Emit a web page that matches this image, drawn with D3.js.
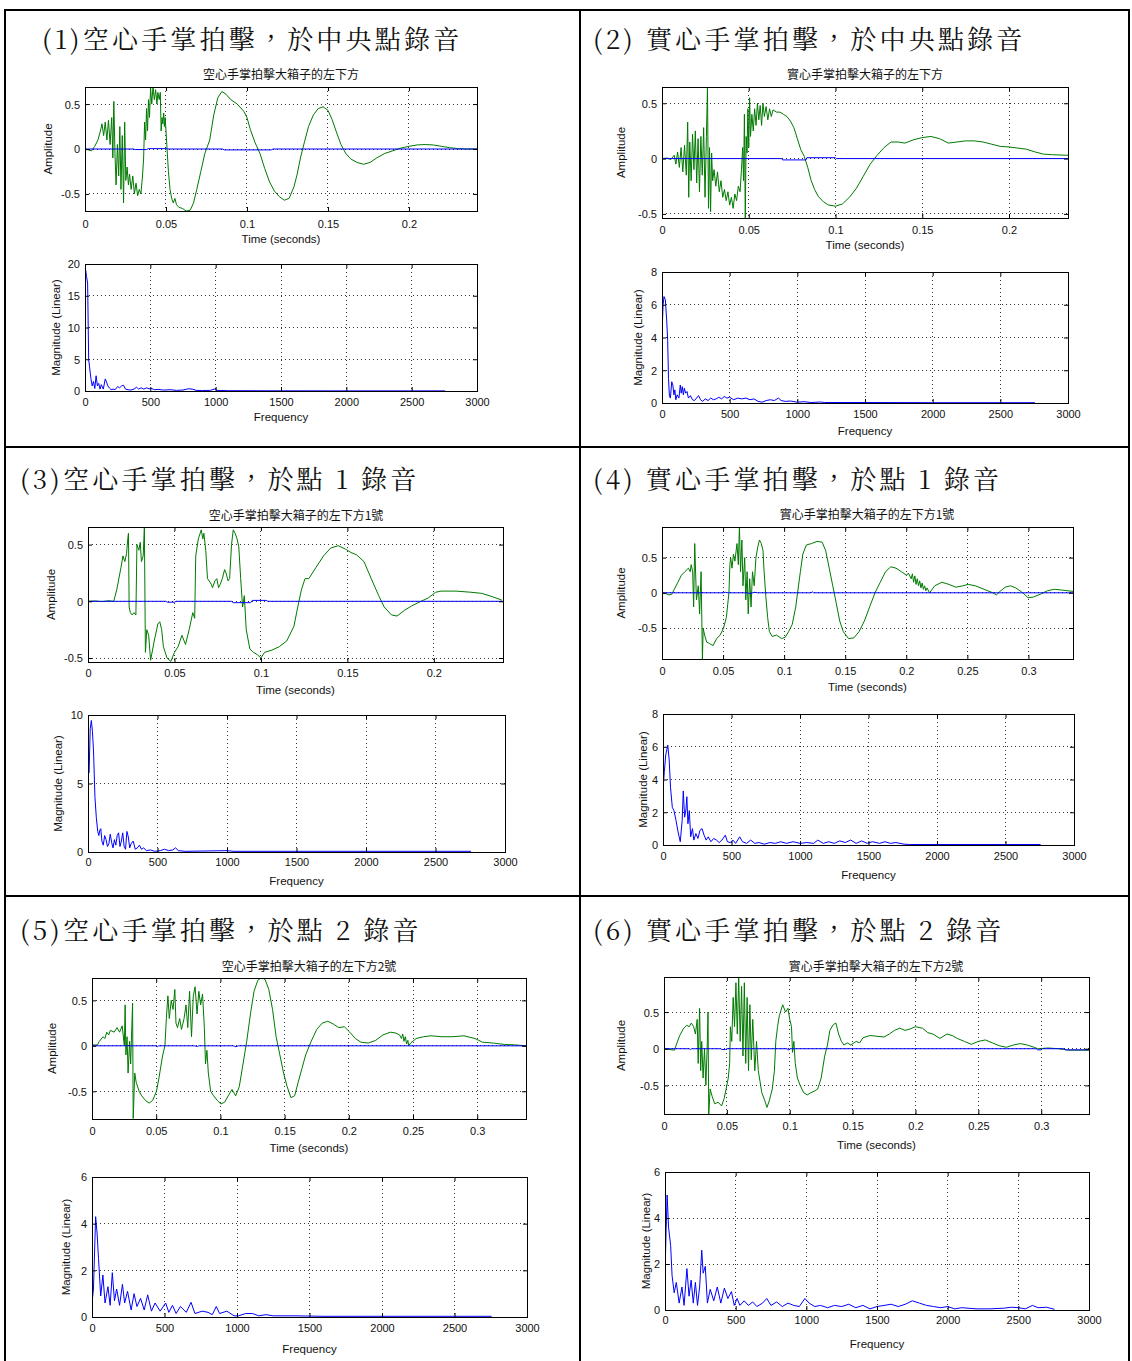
<!DOCTYPE html>
<html>
<head>
<meta charset="utf-8">
<script src="https://cdn.jsdelivr.net/npm/d3@7"></script>
<style>
  html, body { margin: 0; padding: 0; background: #fff; }
  svg { display: block; }
</style>
</head>
<body>
<svg id="fig" width="1132" height="1361"></svg>
<script>
// ---- text ----
const headings = [
  "(1)空心手掌拍擊，於中央點錄音",
  "(2) 實心手掌拍擊，於中央點錄音",
  "(3)空心手掌拍擊，於點 1 錄音",
  "(4) 實心手掌拍擊，於點 1 錄音",
  "(5)空心手掌拍擊，於點 2 錄音",
  "(6) 實心手掌拍擊，於點 2 錄音"
];
const plotTitles = [
  "空心手掌拍擊大箱子的左下方",
  "實心手掌拍擊大箱子的左下方",
  "空心手掌拍擊大箱子的左下方1號",
  "實心手掌拍擊大箱子的左下方1號",
  "空心手掌拍擊大箱子的左下方2號",
  "實心手掌拍擊大箱子的左下方2號"
];

// ---- ticks and axis ranges ----
const timeTicksShort = [0, 0.05, 0.1, 0.15, 0.2];
const timeTicksLong = [0, 0.05, 0.1, 0.15, 0.2, 0.25, 0.3];
const ampTicks = [-0.5, 0, 0.5];
const freqTicks = [0, 500, 1000, 1500, 2000, 2500, 3000];
const magTicks = [[0, 5, 10, 15, 20], [0, 2, 4, 6, 8], [0, 5, 10], [0, 2, 4, 6, 8], [0, 2, 4, 6], [0, 2, 4, 6]];
const timeMax = [0.242, 0.234, 0.24, 0.3365, 0.338, 0.338];
const ampRange = [[-0.69, 0.69], [-0.537, 0.647], [-0.535, 0.655], [-0.94, 0.935], [-0.805, 0.746], [-0.89, 0.978]];
const freqMax = 3000;

// ---- recorded waveforms [time s, amplitude] ----
const wave1 = [[0,0],[0.002,-0.01],[0.004,-0.02],[0.006,0.03],[0.008,0.1],[0.0095,0.2],[0.0105,0.28],[0.0115,0.15],[0.0125,0.3],[0.0135,0.1],[0.0145,0.32],[0.0155,0.05],[0.0165,0.35],[0.0172,-0.1],[0.0178,0.53],[0.0185,-0.05],[0.0192,-0.4],[0.02,0.05],[0.0208,-0.3],[0.0215,0.25],[0.0222,-0.45],[0.023,0.15],[0.0238,-0.6],[0.0245,0.3],[0.0252,-0.35],[0.026,-0.2],[0.0268,-0.4],[0.0275,-0.28],[0.0285,-0.45],[0.0295,-0.3],[0.0305,-0.5],[0.0315,-0.38],[0.0325,-0.52],[0.0335,-0.45],[0.0345,-0.5],[0.0355,-0.3],[0.0362,-0.1],[0.0368,0.3],[0.0374,0.1],[0.038,0.45],[0.0386,0.2],[0.0392,0.55],[0.0398,0.35],[0.0405,0.68],[0.0412,0.5],[0.042,0.7],[0.0428,0.55],[0.0436,0.66],[0.0444,0.5],[0.045,0.63],[0.0458,0.55],[0.0465,0.63],[0.047,0.2],[0.0476,0.35],[0.048,0.28],[0.0486,0.4],[0.049,0.25],[0.0495,0.35],[0.0505,0.05],[0.0515,-0.25],[0.0525,-0.45],[0.0535,-0.55],[0.0545,-0.6],[0.0555,-0.55],[0.0565,-0.62],[0.058,-0.65],[0.06,-0.66],[0.0625,-0.69],[0.065,-0.68],[0.067,-0.6],[0.069,-0.45],[0.0715,-0.25],[0.074,-0.05],[0.077,0.1],[0.0795,0.38],[0.082,0.57],[0.0845,0.64],[0.087,0.61],[0.09,0.55],[0.094,0.5],[0.098,0.42],[0.1,0.35],[0.102,0.22],[0.105,0.07],[0.108,-0.05],[0.111,-0.22],[0.114,-0.37],[0.117,-0.47],[0.12,-0.53],[0.123,-0.57],[0.126,-0.55],[0.129,-0.42],[0.131,-0.28],[0.133,-0.1],[0.1355,0.08],[0.138,0.25],[0.141,0.38],[0.144,0.45],[0.147,0.47],[0.15,0.43],[0.1525,0.33],[0.155,0.2],[0.158,0.05],[0.161,-0.05],[0.164,-0.11],[0.168,-0.15],[0.172,-0.17],[0.176,-0.15],[0.18,-0.1],[0.185,-0.05],[0.19,-0.02],[0.195,0.01],[0.2,0.03],[0.205,0.045],[0.21,0.05],[0.215,0.045],[0.22,0.03],[0.225,0.015],[0.23,0.005],[0.235,0],[0.242,0]];
const wave2 = [[0,0],[0.003,0.005],[0.005,-0.01],[0.007,0.03],[0.008,-0.05],[0.009,0.06],[0.01,-0.08],[0.011,0.1],[0.012,-0.12],[0.013,0.12],[0.014,-0.15],[0.0148,0.33],[0.0154,-0.35],[0.016,0.15],[0.0168,-0.2],[0.0176,0.22],[0.0184,-0.1],[0.0192,0.25],[0.02,-0.22],[0.0208,0.18],[0.0216,-0.3],[0.0224,0.2],[0.0232,-0.15],[0.024,0.28],[0.0248,-0.35],[0.0256,0.2],[0.0262,0.64],[0.0268,-0.45],[0.0274,0.1],[0.028,-0.48],[0.0286,0.05],[0.0292,-0.2],[0.03,-0.1],[0.031,-0.25],[0.032,-0.12],[0.033,-0.3],[0.034,-0.2],[0.035,-0.35],[0.036,-0.28],[0.037,-0.38],[0.038,-0.3],[0.039,-0.42],[0.04,-0.35],[0.041,-0.45],[0.042,-0.32],[0.043,-0.38],[0.044,-0.25],[0.045,-0.3],[0.0458,-0.1],[0.0465,0.1],[0.047,-0.2],[0.0475,0.4],[0.048,-0.55],[0.0485,0.2],[0.049,0.05],[0.0495,0.45],[0.05,0.1],[0.0505,0.55],[0.051,0.2],[0.0518,0.4],[0.0526,0.25],[0.0534,0.45],[0.0542,0.3],[0.055,0.5],[0.0558,0.35],[0.0566,0.48],[0.0574,0.3],[0.0582,0.5],[0.059,0.38],[0.06,0.47],[0.061,0.35],[0.062,0.45],[0.063,0.38],[0.064,0.44],[0.066,0.42],[0.068,0.42],[0.07,0.4],[0.072,0.38],[0.074,0.34],[0.076,0.28],[0.078,0.18],[0.08,0.08],[0.082,0.02],[0.084,-0.08],[0.086,-0.2],[0.088,-0.28],[0.09,-0.34],[0.093,-0.39],[0.096,-0.42],[0.1,-0.43],[0.104,-0.41],[0.108,-0.35],[0.112,-0.27],[0.116,-0.16],[0.12,-0.05],[0.124,0.03],[0.128,0.1],[0.132,0.15],[0.136,0.15],[0.14,0.14],[0.145,0.17],[0.15,0.19],[0.155,0.2],[0.16,0.18],[0.165,0.14],[0.17,0.15],[0.175,0.16],[0.18,0.16],[0.185,0.15],[0.19,0.13],[0.195,0.11],[0.2,0.105],[0.205,0.095],[0.21,0.085],[0.215,0.06],[0.22,0.04],[0.225,0.035],[0.234,0.03]];
const wave3 = [[0,0],[0.004,0.003],[0.008,-0.003],[0.012,0.005],[0.0149,0],[0.0166,0.1],[0.0191,0.3],[0.0202,0.4],[0.0213,0.35],[0.0223,0.42],[0.023,0.55],[0.0234,0.6],[0.0238,-0.05],[0.0245,-0.1],[0.0255,-0.12],[0.0266,-0.1],[0.0277,-0.12],[0.0283,0.5],[0.0294,0.45],[0.0302,0.52],[0.0309,0.35],[0.0319,0.4],[0.0326,0.65],[0.0332,-0.45],[0.034,-0.25],[0.0351,-0.3],[0.0362,-0.52],[0.0383,-0.35],[0.0404,-0.2],[0.0415,-0.18],[0.0426,-0.25],[0.0436,-0.4],[0.0457,-0.5],[0.0479,-0.53],[0.05,-0.45],[0.0521,-0.4],[0.0543,-0.3],[0.0564,-0.38],[0.0585,-0.25],[0.0606,-0.1],[0.0617,-0.15],[0.0623,0.4],[0.0638,0.55],[0.0655,0.63],[0.0664,0.55],[0.067,0.6],[0.0681,0.45],[0.0691,0.2],[0.0705,0.17],[0.0713,0.15],[0.072,0.12],[0.0734,0.18],[0.0745,0.2],[0.0755,0.12],[0.0765,0.15],[0.0777,0.2],[0.079,0.28],[0.0798,0.25],[0.081,0.18],[0.0819,0.2],[0.083,0.5],[0.084,0.63],[0.0851,0.6],[0.0862,0.55],[0.0872,0.48],[0.0883,0.2],[0.0894,-0.05],[0.0904,0.05],[0.0915,-0.25],[0.0936,-0.42],[0.0957,-0.45],[0.0979,-0.47],[0.1,-0.5],[0.1021,-0.45],[0.1064,-0.43],[0.1106,-0.4],[0.1149,-0.35],[0.1191,-0.22],[0.1213,-0.05],[0.1234,0.1],[0.1255,0.2],[0.1277,0.2],[0.1319,0.3],[0.1362,0.4],[0.1404,0.47],[0.1447,0.49],[0.1489,0.46],[0.1521,0.43],[0.1553,0.41],[0.1596,0.35],[0.1638,0.2],[0.1681,0.05],[0.1713,-0.05],[0.1755,-0.12],[0.1787,-0.13],[0.183,-0.08],[0.1872,-0.04],[0.1926,0],[0.1968,0.03],[0.2011,0.08],[0.2043,0.09],[0.2128,0.09],[0.2213,0.08],[0.2277,0.07],[0.234,0.04],[0.2394,0.01]];
const wave4 = [[0,0],[0.003,-0.01],[0.0058,-0.03],[0.008,-0.02],[0.0101,0.05],[0.013,0.15],[0.0159,0.25],[0.0187,0.3],[0.0216,0.35],[0.0231,0.3],[0.0239,0.4],[0.0251,0.3],[0.0259,-0.2],[0.0268,0.7],[0.0282,-0.1],[0.0297,0.1],[0.0308,-0.3],[0.032,0.3],[0.0331,-0.94],[0.0337,-0.5],[0.0349,-0.6],[0.0366,-0.7],[0.0389,-0.72],[0.0418,-0.75],[0.0447,-0.65],[0.0476,-0.6],[0.0504,-0.5],[0.0527,-0.35],[0.0548,0],[0.0556,0.4],[0.0562,0.5],[0.0573,0.35],[0.0585,0.55],[0.0597,0.45],[0.0614,0.7],[0.0625,0.4],[0.0634,0.95],[0.0643,0.3],[0.0654,0.75],[0.0663,0.1],[0.0677,0.5],[0.0686,-0.1],[0.0697,0.3],[0.0706,-0.3],[0.0718,0.2],[0.0729,-0.2],[0.0741,0.3],[0.0755,0.1],[0.0769,0.5],[0.0784,0.65],[0.0798,0.75],[0.0813,0.7],[0.0827,0.6],[0.0836,0.3],[0.085,-0.05],[0.0865,-0.35],[0.0879,-0.55],[0.0902,-0.62],[0.0937,-0.6],[0.098,-0.65],[0.1009,-0.63],[0.1037,-0.55],[0.1066,-0.45],[0.1095,-0.2],[0.111,0],[0.1133,0.3],[0.1153,0.55],[0.1182,0.68],[0.1225,0.7],[0.1268,0.73],[0.1311,0.72],[0.134,0.6],[0.1369,0.35],[0.1398,0.1],[0.1427,-0.15],[0.1455,-0.4],[0.1484,-0.55],[0.1527,-0.65],[0.1571,-0.64],[0.1614,-0.55],[0.1657,-0.4],[0.17,-0.2],[0.1744,0],[0.1787,0.15],[0.183,0.3],[0.1873,0.37],[0.1916,0.35],[0.196,0.3],[0.2003,0.25],[0.2017,0.28],[0.204,0.2],[0.205,0.27],[0.206,0.15],[0.207,0.24],[0.208,0.12],[0.209,0.2],[0.21,0.1],[0.211,0.17],[0.212,0.07],[0.213,0.14],[0.214,0.05],[0.215,0.1],[0.216,0.03],[0.217,0.07],[0.219,0],[0.2233,0.1],[0.2291,0.15],[0.2349,0.12],[0.2406,0.08],[0.2464,0.1],[0.2507,0.12],[0.2565,0.1],[0.2637,0.05],[0.2709,0],[0.2738,-0.03],[0.2767,0.02],[0.281,0.08],[0.2853,0.1],[0.2896,0.07],[0.2954,0],[0.2997,-0.07],[0.304,-0.06],[0.3098,-0.02],[0.3156,0.03],[0.3213,0.05],[0.3271,0.04],[0.3365,0.02]];
const wave5 = [[0,0.01],[0.0043,0.01],[0.0057,0.05],[0.0086,0.1],[0.01,0.08],[0.0115,0.15],[0.013,0.12],[0.0143,0.17],[0.0172,0.15],[0.0195,0.2],[0.0215,0.15],[0.0235,0.22],[0.0252,0],[0.0258,0.45],[0.0264,-0.1],[0.0273,0.1],[0.0281,-0.3],[0.0293,0.05],[0.0301,-0.2],[0.0316,0.47],[0.0321,-0.8],[0.0333,-0.3],[0.0344,-0.4],[0.0367,-0.5],[0.0387,-0.55],[0.0416,-0.6],[0.0445,-0.63],[0.0473,-0.6],[0.0502,-0.5],[0.0522,-0.35],[0.0539,-0.2],[0.0551,-0.1],[0.0568,0],[0.0579,0.3],[0.0591,0.55],[0.0602,0.3],[0.0617,0.5],[0.0631,0.4],[0.0645,0.62],[0.0654,0.25],[0.0666,0.2],[0.0683,0.3],[0.0697,0.18],[0.0717,0.3],[0.0732,0.45],[0.0746,0.2],[0.076,0.6],[0.0775,0.1],[0.0789,0.55],[0.0803,0.65],[0.0818,0.35],[0.0832,0.6],[0.0846,0.45],[0.0861,0.57],[0.0875,0.2],[0.0884,-0.2],[0.0895,-0.05],[0.0906,-0.3],[0.0924,-0.5],[0.0947,-0.55],[0.0975,-0.6],[0.1004,-0.64],[0.1033,-0.62],[0.1061,-0.55],[0.109,-0.48],[0.1119,-0.55],[0.1147,-0.45],[0.1176,-0.2],[0.1205,0.05],[0.1234,0.35],[0.1262,0.6],[0.1291,0.72],[0.132,0.75],[0.1348,0.73],[0.1377,0.62],[0.1406,0.4],[0.1434,0.1],[0.1463,-0.1],[0.1492,-0.3],[0.152,-0.45],[0.1549,-0.57],[0.1578,-0.55],[0.1606,-0.4],[0.1635,-0.25],[0.1664,-0.1],[0.1707,0.05],[0.175,0.18],[0.1793,0.25],[0.1836,0.27],[0.1879,0.24],[0.1922,0.2],[0.1965,0.21],[0.2008,0.15],[0.2051,0.08],[0.2094,0.04],[0.2151,0.03],[0.2209,0.06],[0.2266,0.12],[0.2324,0.15],[0.2367,0.14],[0.2395,0.12],[0.241,0.08],[0.242,0.13],[0.243,0.05],[0.244,0.1],[0.245,0.02],[0.246,0.06],[0.2467,0],[0.2481,0.03],[0.2524,0.08],[0.2582,0.1],[0.2639,0.11],[0.2725,0.1],[0.2811,0.1],[0.2897,0.11],[0.2983,0.08],[0.3041,0.04],[0.3127,0.03],[0.3213,0.015],[0.3299,0.01],[0.338,0]];
const wave6 = [[0,0],[0.004,-0.01],[0.0083,-0.02],[0.0097,0.05],[0.0125,0.18],[0.0153,0.27],[0.0181,0.32],[0.02,0.3],[0.0217,0.35],[0.0236,0.3],[0.025,0.2],[0.0264,0.4],[0.0272,-0.2],[0.0283,0.55],[0.0292,-0.3],[0.03,0.1],[0.0311,-0.4],[0.0322,0],[0.0333,-0.5],[0.0344,0.05],[0.035,0.5],[0.0356,-0.89],[0.0367,-0.55],[0.0383,-0.65],[0.0403,-0.75],[0.0431,-0.73],[0.0458,-0.78],[0.0478,-0.68],[0.0494,-0.55],[0.0511,-0.4],[0.0522,-0.2],[0.0528,0.3],[0.0539,0.1],[0.055,0.7],[0.0561,0.3],[0.0572,0.9],[0.0583,0.2],[0.0594,0.98],[0.0606,0.1],[0.0617,0.85],[0.0628,-0.1],[0.0639,0.9],[0.065,-0.2],[0.0661,0.7],[0.0672,-0.3],[0.0683,0.6],[0.0694,-0.15],[0.0706,0.4],[0.0722,-0.3],[0.0736,0.1],[0.075,-0.3],[0.0764,-0.45],[0.0778,-0.6],[0.08,-0.7],[0.0819,-0.8],[0.0839,-0.7],[0.0861,-0.55],[0.0878,-0.3],[0.0889,0.1],[0.0903,0.3],[0.0917,0.45],[0.0944,0.6],[0.0967,0.5],[0.0986,0.55],[0.1,0.4],[0.1014,0.3],[0.1022,-0.05],[0.1033,0.1],[0.1044,-0.2],[0.1061,-0.4],[0.1083,-0.5],[0.1111,-0.6],[0.1139,-0.63],[0.1167,-0.6],[0.1194,-0.58],[0.1222,-0.55],[0.125,-0.4],[0.1278,-0.1],[0.13,0.05],[0.1319,0.25],[0.1347,0.33],[0.1367,0.35],[0.1389,0.2],[0.1411,0.1],[0.1431,0.05],[0.1458,0.08],[0.1486,0.05],[0.1528,0.1],[0.1556,0.08],[0.1583,0.15],[0.1639,0.18],[0.1694,0.17],[0.175,0.16],[0.1792,0.2],[0.1833,0.25],[0.1875,0.28],[0.1917,0.25],[0.1958,0.27],[0.2,0.3],[0.2056,0.28],[0.2097,0.22],[0.2139,0.2],[0.2194,0.14],[0.225,0.2],[0.2292,0.18],[0.2333,0.14],[0.2389,0.1],[0.2444,0.06],[0.25,0.1],[0.2556,0.12],[0.2611,0.08],[0.2667,0.04],[0.2722,0.02],[0.2778,0.05],[0.2833,0.07],[0.2889,0.05],[0.2944,0.02],[0.2972,0],[0.3056,0.01],[0.3139,0],[0.3222,-0.02],[0.338,-0.02]];

// ---- second (blue) channel [time s, amplitude] ----
const ref1 = [[0,0],[0.03,0],[0.031,-0.006],[0.038,-0.006],[0.039,0.004],[0.05,0.004],[0.051,0],[0.085,0],[0.086,-0.01],[0.115,-0.01],[0.116,0],[0.242,0]];
const ref2 = [[0,0],[0.069,0],[0.0695,-0.012],[0.083,-0.012],[0.0835,0.008],[0.1,0.008],[0.1005,0],[0.234,0]];
const ref3 = [[0,0],[0.045,0],[0.046,-0.008],[0.05,-0.008],[0.051,0],[0.083,0],[0.084,-0.012],[0.094,-0.012],[0.095,0.008],[0.103,0.008],[0.104,0],[0.24,0]];
const ref4 = [[0,0],[0.05,0],[0.052,0.008],[0.054,0],[0.07,0],[0.072,-0.01],[0.076,0.008],[0.078,0],[0.122,0],[0.123,0.015],[0.124,0],[0.3365,0]];
const ref5 = [[0,0],[0.05,0],[0.051,-0.01],[0.052,0],[0.08,0],[0.082,-0.008],[0.083,0],[0.11,0],[0.112,-0.01],[0.114,0],[0.338,0]];
const ref6 = [[0,0],[0.02,0],[0.021,-0.01],[0.022,0],[0.045,0],[0.046,-0.01],[0.049,-0.01],[0.05,0],[0.098,0],[0.099,-0.02],[0.1,0],[0.296,0],[0.297,-0.015],[0.3,-0.015],[0.301,0],[0.318,0],[0.319,-0.015],[0.338,-0.015]];

// ---- magnitude spectra [frequency Hz, magnitude] ----
const spec1 = [[0,15],[5,19],[12,18],[20,17],[28,5],[35,3.8],[45,2],[55,0.8],[65,1.5],[75,0.4],[85,2.4],[95,0.8],[105,1.2],[115,0.3],[125,1],[140,0.3],[155,1.9],[165,1.4],[175,0.8],[190,0.4],[200,0.2],[215,0.3],[230,0.2],[250,0.7],[265,0.5],[280,0.8],[295,0.9],[310,0.3],[330,0.2],[350,0.15],[375,0.3],[395,0.6],[410,0.3],[430,0.5],[450,0.3],[470,0.5],[490,0.35],[510,0.4],[530,0.2],[560,0.25],[600,0.15],[650,0.2],[700,0.1],[750,0.15],[790,0.35],[820,0.3],[850,0.1],[900,0.08],[960,0.1],[990,0.3],[1010,0.1],[1100,0.05],[1500,0.03],[2000,0.02],[2756,0.02]];
const spec2 = [[0,4.2],[8,6],[15,6.5],[25,6.3],[35,5],[42,3.8],[48,1.5],[55,0.4],[62,0.3],[72,1.3],[80,1.1],[88,0.5],[95,0.8],[102,0.2],[112,0.5],[125,0.3],[135,1.1],[142,0.6],[150,1.0],[158,0.5],[165,0.9],[175,0.6],[185,0.7],[195,0.3],[210,0.45],[225,0.2],[240,0.15],[255,0.3],[270,0.45],[285,0.2],[300,0.1],[320,0.25],[340,0.15],[360,0.3],[380,0.2],[400,0.25],[420,0.35],[440,0.25],[460,0.4],[480,0.3],[500,0.35],[530,0.2],[560,0.3],[590,0.25],[620,0.3],[650,0.2],[680,0.25],[710,0.1],[740,0.05],[770,0.15],[800,0.2],[830,0.15],[860,0.3],[880,0.15],[910,0.1],[950,0.12],[1000,0.05],[1050,0.08],[1100,0.03],[1170,0.06],[1200,0.03],[1500,0.03],[2000,0.02],[2756,0.02]];
const spec3 = [[0,6],[8,5.8],[16,9],[24,9.6],[32,8.8],[40,7.3],[50,4],[60,2.5],[70,1.5],[78,1.2],[85,1.6],[92,1.7],[100,0.8],[110,0.5],[120,1.2],[130,0.9],[140,0.4],[150,0.6],[160,1.3],[170,0.7],[180,0.3],[190,0.9],[200,0.5],[210,1.2],[220,1.4],[230,0.4],[240,0.8],[250,1.4],[260,0.4],[270,0.2],[280,1.5],[290,1.1],[300,0.3],[310,0.6],[325,0.8],[340,0.2],[355,0.3],[370,0.5],[385,0.2],[400,0.3],[420,0.1],[450,0.15],[480,0.05],[520,0.1],[550,0.2],[580,0.1],[610,0.15],[630,0.3],[650,0.1],[700,0.05],[1000,0.1],[1050,0.05],[2756,0.05]];
const spec4 = [[0,3.4],[10,4.5],[20,5.5],[35,6.1],[45,5.2],[55,3.5],[68,2.3],[80,2.1],[95,1.5],[110,0.8],[126,0.2],[140,1.5],[148,3.3],[158,1.7],[168,2.2],[174,2.95],[182,1.3],[192,2.1],[202,0.5],[215,1.0],[225,0.3],[240,0.7],[255,0.4],[270,0.9],[285,1.0],[300,0.6],[315,0.3],[330,0.5],[350,0.2],[370,0.4],[390,0.3],[410,0.15],[430,0.3],[455,0.6],[470,0.2],[490,0.15],[510,0.3],[530,0.1],[560,0.5],[580,0.2],[610,0.1],[640,0.3],[670,0.1],[700,0.15],[740,0.05],[780,0.15],[820,0.1],[860,0.2],[900,0.1],[950,0.2],[1000,0.1],[1050,0.15],[1100,0.1],[1130,0.3],[1170,0.1],[1210,0.2],[1250,0.1],[1290,0.25],[1330,0.15],[1370,0.3],[1410,0.1],[1450,0.25],[1490,0.1],[1530,0.2],[1580,0.1],[1620,0.2],[1660,0.1],[1700,0.15],[1760,0.05],[1800,0.03],[2756,0.03]];
const spec5 = [[0,0.6],[10,1.2],[25,4.3],[35,3.6],[45,2.5],[60,0.9],[75,1.8],[90,0.6],[110,1.3],[125,0.5],[140,1.9],[155,0.7],[170,1.2],[190,0.5],[210,1.4],[225,0.6],[245,1.1],[270,0.3],[290,1.0],[310,0.45],[335,0.8],[360,0.3],[384,0.95],[410,0.25],[435,0.6],[470,0.25],[508,0.6],[530,0.2],[555,0.5],[580,0.15],[610,0.45],[650,0.2],[683,0.63],[710,0.15],[760,0.25],[800,0.2],[830,0.1],[857,0.45],[880,0.15],[930,0.25],[980,0.05],[1010,0.05],[1060,0.15],[1107,0.15],[1150,0.05],[1200,0.1],[1250,0.05],[1400,0.05],[1600,0.03],[2756,0.03]];
const spec6 = [[0,1.5],[8,3.5],[15,5.0],[25,3.6],[40,2.8],[50,1.5],[65,0.75],[80,1.2],[100,0.3],[120,1.0],[135,0.2],[155,1.8],[170,0.6],[185,1.3],[200,0.3],[215,1.2],[230,0.2],[245,1.0],[260,2.6],[270,1.6],[285,1.9],[300,0.3],[320,0.9],[345,0.4],[370,1.0],[395,0.3],[420,0.95],[445,0.5],[470,0.8],[490,0.2],[510,0.5],[530,0.2],[560,0.4],[590,0.2],[620,0.35],[650,0.15],[690,0.3],[720,0.5],[750,0.2],[790,0.35],[830,0.15],[870,0.3],[910,0.2],[950,0.15],[990,0.5],[1020,0.3],[1060,0.15],[1100,0.2],[1150,0.1],[1200,0.2],[1250,0.15],[1300,0.25],[1350,0.1],[1400,0.2],[1450,0.05],[1500,0.15],[1550,0.2],[1600,0.25],[1650,0.15],[1700,0.25],[1750,0.4],[1800,0.3],[1850,0.2],[1900,0.15],[1950,0.1],[2000,0.15],[2050,0.05],[2100,0.1],[2200,0.05],[2300,0.05],[2400,0.08],[2450,0.12],[2500,0.1],[2550,0.05],[2600,0.2],[2640,0.1],[2700,0.12],[2756,0.03]];

const waves = [wave1, wave2, wave3, wave4, wave5, wave6];
const refs = [ref1, ref2, ref3, ref4, ref5, ref6];
const spectra = [spec1, spec2, spec3, spec4, spec5, spec6];
const timeTickSets = [timeTicksShort, timeTicksShort, timeTicksShort, timeTicksLong, timeTicksLong, timeTicksLong];

// ---- page geometry ----
const panels = [
  {head: [42, 49], title: [281, 79],
   time: {x0: 85, x1: 477, y0: 87, y1: 211, tick: 228, lab: 243, ylab: 48},
   freq: {x0: 85, x1: 477, y0: 264, y1: 391, tick: 406, lab: 421, ylab: 56}},
  {head: [593, 49], title: [865, 79],
   time: {x0: 662, x1: 1068, y0: 87, y1: 218, tick: 234, lab: 249, ylab: 621},
   freq: {x0: 662, x1: 1068, y0: 272, y1: 403, tick: 418, lab: 435, ylab: 638}},
  {head: [20, 489], title: [296, 520],
   time: {x0: 88, x1: 503, y0: 527, y1: 662, tick: 677, lab: 694, ylab: 51},
   freq: {x0: 88, x1: 505, y0: 715, y1: 852, tick: 866, lab: 885, ylab: 58}},
  {head: [593, 489], title: [867, 519],
   time: {x0: 662, x1: 1073, y0: 527, y1: 659, tick: 675, lab: 691, ylab: 621},
   freq: {x0: 663, x1: 1074, y0: 714, y1: 845, tick: 860, lab: 879, ylab: 643}},
  {head: [20, 940], title: [309, 971],
   time: {x0: 92, x1: 526, y0: 978, y1: 1119, tick: 1135, lab: 1152, ylab: 52},
   freq: {x0: 92, x1: 527, y0: 1177, y1: 1317, tick: 1332, lab: 1353, ylab: 66}},
  {head: [593, 940], title: [876, 971],
   time: {x0: 664, x1: 1089, y0: 977, y1: 1114, tick: 1130, lab: 1149, ylab: 621},
   freq: {x0: 665, x1: 1089, y0: 1172, y1: 1310, tick: 1324, lab: 1348, ylab: 646}}
];

const LATIN = "'Liberation Sans', Arial, Helvetica, sans-serif";
const CJK_SERIF = "'Noto Serif CJK TC', 'Noto Sans CJK TC', serif";
const CJK_SANS = "'Noto Sans CJK TC', 'Noto Sans CJK SC', sans-serif";
const GREEN = "#007a00";
const BLUE = "#0000ff";

const svg = d3.select("#fig");

// table frame
const frame = svg.append("g").attr("stroke", "#000").attr("stroke-width", 2);
[[5, 9, 5, 1361], [580, 9, 580, 1361], [1129, 9, 1129, 1361],
 [4, 10, 1130, 10], [4, 447, 1130, 447], [4, 896, 1130, 896]].forEach(([a, b, c, d]) =>
  frame.append("line").attr("x1", a).attr("y1", b).attr("x2", c).attr("y2", d));

let clipId = 0;

function drawAxes(box, xs, ys, xTicks, yTicks, series, xLabel, yLabel) {
  const g = svg.append("g");
  const id = "clip" + (clipId++);
  g.append("clipPath").attr("id", id).append("rect")
    .attr("x", box.x0).attr("y", box.y0)
    .attr("width", box.x1 - box.x0).attr("height", box.y1 - box.y0);

  // dotted grid
  const grid = g.append("g").attr("stroke", "#333").attr("stroke-width", 1)
    .attr("stroke-dasharray", "1,3").attr("shape-rendering", "crispEdges");
  const [dx0, dx1] = xs.domain(), [dy0, dy1] = ys.domain();
  xTicks.filter(v => v > dx0 && v < dx1).forEach(v => {
    grid.append("line").attr("x1", xs(v)).attr("x2", xs(v)).attr("y1", box.y0).attr("y2", box.y1);
  });
  yTicks.filter(v => v > dy0 && v < dy1).forEach(v => {
    grid.append("line").attr("y1", ys(v)).attr("y2", ys(v)).attr("x1", box.x0).attr("x2", box.x1);
  });

  // data lines
  const line = d3.line().x(d => xs(d[0])).y(d => ys(d[1]));
  const plot = g.append("g").attr("clip-path", `url(#${id})`);
  series.forEach(s => {
    plot.append("path").attr("d", line(s.data)).attr("fill", "none")
      .attr("stroke", s.color).attr("stroke-width", 1).attr("stroke-linejoin", "round");
  });

  // axes: inward ticks all round, labels bottom/left
  const fmt = d => String(d);
  const bottom = g.append("g").attr("transform", `translate(0,${box.y1})`)
    .call(d3.axisBottom(xs).tickValues(xTicks).tickSize(-4).tickFormat(fmt));
  g.append("g").attr("transform", `translate(0,${box.y0})`)
    .call(d3.axisTop(xs).tickValues(xTicks).tickSize(-4).tickFormat(""));
  const left = g.append("g").attr("transform", `translate(${box.x0},0)`)
    .call(d3.axisLeft(ys).tickValues(yTicks).tickSize(-4).tickFormat(fmt));
  g.append("g").attr("transform", `translate(${box.x1},0)`)
    .call(d3.axisRight(ys).tickValues(yTicks).tickSize(-4).tickFormat(""));
  g.selectAll(".domain").remove();
  g.selectAll(".tick line").attr("stroke", "#000");

  bottom.selectAll("text").attr("y", box.tick - box.y1).attr("dy", 0)
    .attr("font-family", LATIN).attr("font-size", 11).attr("fill", "#111");
  left.selectAll("text").attr("x", -5).attr("dy", "0.36em")
    .attr("font-family", LATIN).attr("font-size", 11).attr("fill", "#111");

  // frame of the axes
  g.append("rect").attr("x", box.x0).attr("y", box.y0)
    .attr("width", box.x1 - box.x0).attr("height", box.y1 - box.y0)
    .attr("fill", "none").attr("stroke", "#000").attr("stroke-width", 1)
    .attr("shape-rendering", "crispEdges");

  // axis titles
  g.append("text").attr("x", (box.x0 + box.x1) / 2).attr("y", box.lab)
    .attr("text-anchor", "middle").attr("font-family", LATIN).attr("font-size", 11.5)
    .attr("fill", "#111").text(xLabel);
  const cy = (box.y0 + box.y1) / 2;
  g.append("text").attr("transform", `translate(${box.ylab + 4},${cy}) rotate(-90)`)
    .attr("text-anchor", "middle").attr("font-family", LATIN).attr("font-size", 11.5)
    .attr("fill", "#111").text(yLabel);
}

panels.forEach((p, i) => {
  // heading of the table cell
  svg.append("text").attr("x", p.head[0]).attr("y", p.head[1])
    .attr("font-family", CJK_SERIF).attr("font-size", 26).attr("letter-spacing", 3.2)
    .attr("fill", "#111").attr("xml:space", "preserve").text(headings[i]);

  // plot title
  svg.append("text").attr("x", p.title[0]).attr("y", p.title[1])
    .attr("text-anchor", "middle").attr("font-family", CJK_SANS).attr("font-size", 12)
    .attr("fill", "#111").text(plotTitles[i]);

  // time domain plot
  const tx = d3.scaleLinear().domain([0, timeMax[i]]).range([p.time.x0, p.time.x1]);
  const ty = d3.scaleLinear().domain(ampRange[i]).range([p.time.y1, p.time.y0]);
  drawAxes(p.time, tx, ty, timeTickSets[i], ampTicks,
    [{data: waves[i], color: GREEN}, {data: refs[i], color: BLUE}],
    "Time (seconds)", "Amplitude");

  // spectrum plot
  const mags = magTicks[i];
  const fx = d3.scaleLinear().domain([0, freqMax]).range([p.freq.x0, p.freq.x1]);
  const fy = d3.scaleLinear().domain([0, mags[mags.length - 1]]).range([p.freq.y1, p.freq.y0]);
  drawAxes(p.freq, fx, fy, freqTicks, mags,
    [{data: spectra[i], color: BLUE}],
    "Frequency", "Magnitude (Linear)");
});
</script>
</body>
</html>
